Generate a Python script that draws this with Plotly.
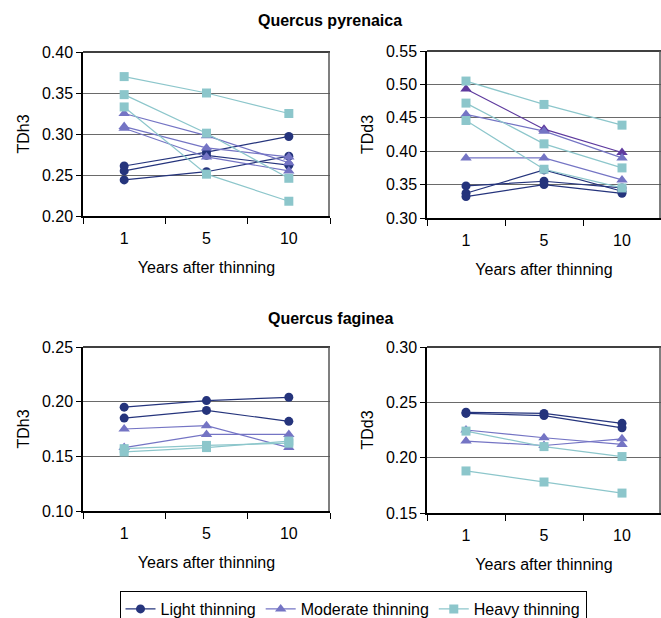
import plotly.graph_objects as go

years = ["1", "5", "10"]

# Quercus pyrenaica - TDh3
qp_h_light = [[0.261, 0.278, 0.297], [0.255, 0.274, 0.262], [0.244, 0.254, 0.273]]
qp_h_moderate = [[0.325, 0.298, 0.265], [0.309, 0.283, 0.272], [0.307, 0.272, 0.255]]
qp_h_heavy = [[0.370, 0.350, 0.325], [0.348, 0.301, 0.246], [0.333, 0.251, 0.218]]

# Quercus pyrenaica - TDd3
qp_d_light = [[0.348, 0.355, 0.345], [0.337, 0.372, 0.340], [0.332, 0.350, 0.337]]
qp_d_moderate = [[0.493, 0.433, 0.398], [0.455, 0.430, 0.390], [0.390, 0.390, 0.357]]
qp_d_heavy = [[0.505, 0.470, 0.439], [0.472, 0.411, 0.375], [0.446, 0.373, 0.345]]

# Quercus faginea - TDh3
qf_h_light = [[0.195, 0.201, 0.204], [0.185, 0.192, 0.182]]
qf_h_moderate = [[0.175, 0.178, 0.158], [0.158, 0.170, 0.170]]
qf_h_heavy = [[0.157, 0.160, 0.162], [0.154, 0.158, 0.164]]

# Quercus faginea - TDd3
qf_d_light = [[0.241, 0.240, 0.231], [0.240, 0.238, 0.227]]
qf_d_moderate = [[0.225, 0.218, 0.212], [0.215, 0.211, 0.217]]
qf_d_heavy = [[0.224, 0.210, 0.201], [0.188, 0.178, 0.168]]

C_LIGHT = "#25347C"
C_MOD = "#7474C4"
C_MOD_DARK = "#5E3A9E"
C_HEAVY = "#8CC6CB"

FONT = "Liberation Sans, Arial, sans-serif"

fig = go.Figure()

legend_done = set()

def add_group(xa, ya, data, name, color, symbol, size, special_first=None):
    for i, vals in enumerate(data):
        c = color
        if special_first is not None and i == 0:
            c = special_first
        show = name not in legend_done
        legend_done.add(name)
        fig.add_trace(go.Scatter(
            x=years, y=vals, mode="lines+markers", name=name,
            legendgroup=name, showlegend=show,
            line=dict(color=c, width=1.2),
            marker=dict(color=c, symbol=symbol, size=size),
            xaxis=xa, yaxis=ya,
        ))

panels = [
    ("x", "y", qp_h_light, qp_h_moderate, qp_h_heavy, None),
    ("x2", "y2", qp_d_light, qp_d_moderate, qp_d_heavy, C_MOD_DARK),
    ("x3", "y3", qf_h_light, qf_h_moderate, qf_h_heavy, None),
    ("x4", "y4", qf_d_light, qf_d_moderate, qf_d_heavy, None),
]
for xa, ya, L, M, H, sp in panels:
    add_group(xa, ya, L, "Light thinning", C_LIGHT, "circle", 9)
    add_group(xa, ya, M, "Moderate thinning", C_MOD, "triangle-up", 10, sp)
    add_group(xa, ya, H, "Heavy thinning", C_HEAVY, "square", 9)

W, H_ = 661, 618

def px_x(v):
    return v / W

def px_y(v):
    return 1 - v / H_

doms = {
    "": ([83, 330], [216, 52]),
    "2": ([427, 661], [218, 51]),
    "3": ([83, 330], [511, 347]),
    "4": ([427, 661], [513, 347]),
}
ranges = {"": [0.20, 0.40], "2": [0.30, 0.55], "3": [0.10, 0.25], "4": [0.15, 0.30]}
ytitles = {"": "TDh3", "2": "TDd3", "3": "TDh3", "4": "TDd3"}

layout = dict(
    width=W, height=H_, margin=dict(l=0, r=0, t=0, b=0, autoexpand=False),
    paper_bgcolor="white", plot_bgcolor="white",
    font=dict(family=FONT, size=16, color="black"),
    showlegend=True,
    legend=dict(
        orientation="h", x=px_x(353), xanchor="center", y=px_y(591), yanchor="top",
        bordercolor="black", borderwidth=1, font=dict(size=16, family=FONT),
        itemwidth=30, tracegroupgap=0, traceorder="normal",
    ),
)
for k, (xd, yd) in doms.items():
    layout["xaxis" + k] = dict(
        domain=[px_x(xd[0]), px_x(xd[1])], type="category", automargin=False,
        anchor="y" + k, tickson="boundaries", ticks="outside", ticklen=6,
        tickcolor="black", showline=True, linecolor="black", linewidth=1.5,
        mirror=False, showgrid=False, tickfont=dict(size=16),
        ticklabelstandoff=7,
        title=dict(text="Years after thinning", font=dict(size=16), standoff=16),
        range=[-0.5, 2.5],
    )
    layout["yaxis" + k] = dict(
        domain=[px_y(yd[0]), px_y(yd[1])], anchor="x" + k, automargin=False,
        range=ranges[k], dtick=0.05, tickformat=".2f",
        ticks="outside", ticklen=5, tickcolor="black",
        showline=True, linecolor="black", linewidth=1.5,
        showgrid=True, gridcolor="#6a6a6a", gridwidth=1.2,
        zeroline=False, tickfont=dict(size=16),
        title=dict(text=ytitles[k], font=dict(size=16), standoff=8),
    )

fig.update_layout(**layout)

# top borders and right borders of each plot area
shapes = []
for k, (xd, yd) in doms.items():
    shapes.append(dict(type="line", xref="paper", yref="paper",
                       x0=px_x(xd[0]), x1=px_x(xd[1]), y0=px_y(yd[1]), y1=px_y(yd[1]),
                       line=dict(color="black", width=1.5)))
    shapes.append(dict(type="line", xref="paper", yref="paper",
                       x0=px_x(xd[1] - 1), x1=px_x(xd[1] - 1), y0=px_y(yd[0]), y1=px_y(yd[1]),
                       line=dict(color="#555555", width=1.5)))
fig.update_layout(shapes=shapes)

fig.add_annotation(text="<b>Quercus pyrenaica</b>", x=px_x(330), y=px_y(21),
                   xref="paper", yref="paper", showarrow=False,
                   xanchor="center", yanchor="middle",
                   font=dict(size=16, family=FONT))
fig.add_annotation(text="<b>Quercus faginea</b>", x=px_x(330), y=px_y(318),
                   xref="paper", yref="paper", showarrow=False,
                   xanchor="center", yanchor="middle",
                   font=dict(size=16, family=FONT))

fig.write_html("out.html")
